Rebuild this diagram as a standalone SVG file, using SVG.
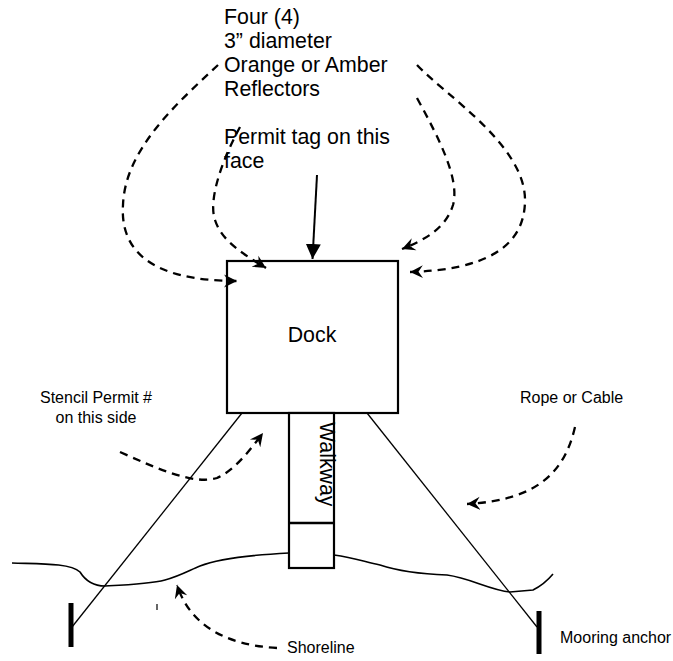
<svg xmlns="http://www.w3.org/2000/svg" width="673" height="661" viewBox="0 0 673 661">
<style>
text{font-family:"Liberation Sans",Arial,sans-serif;fill:#000}
.big{font-size:21.33px}
.small{font-size:16px}
.box{fill:#fff;stroke:#000;stroke-width:2.2}
.dash{fill:none;stroke:#000;stroke-width:2.3;stroke-dasharray:8 6}
.rope{fill:none;stroke:#000;stroke-width:1.3}
.shore{fill:none;stroke:#000;stroke-width:1.6}
.anchor{stroke:#000;stroke-width:5}
</style>
<defs>
<marker id="stealth" markerUnits="userSpaceOnUse" markerWidth="15" markerHeight="15" refX="13" refY="6.5" orient="auto" viewBox="0 0 15 13">
<path d="M0,0 L13,6.5 L0,13 L4.5,6.5 z" fill="#000"/>
</marker>
<marker id="tri" markerUnits="userSpaceOnUse" markerWidth="16" markerHeight="16" refX="15" refY="7.5" orient="auto" viewBox="0 0 16 15">
<path d="M0,0 L15,7.5 L0,15 z" fill="#000"/>
</marker>
</defs>
<rect width="673" height="661" fill="#fff"/>

<g id="shoreline">
<path class="shore" d="M12,563 C40,564 70,563 80,572 C85,580 92,586 105,586 C125,585 150,584 165,580 C180,576 190,570 200,566 C220,558 250,555 289,553"/>
<path class="shore" d="M334,555 C355,558 365,562 380,565 C395,570 420,574 447,575 C470,578 490,590 510,592 L533,590 C543,585 548,580 553,574"/>
<line x1="157" y1="604" x2="157" y2="610" stroke="#000" stroke-width="1.2"/>
</g>

<g id="dock">
<rect class="box" x="227" y="261" width="171" height="152"/>
<text class="big" x="312" y="342" text-anchor="middle">Dock</text>
</g>

<g id="walkway">
<rect class="box" x="289" y="413" width="45" height="155"/>
<line x1="289" y1="523" x2="334" y2="523" stroke="#000" stroke-width="2.5"/>
<text class="big" transform="translate(320,422) rotate(90)">Walkway</text>
</g>

<g id="connectors">
<line class="rope" x1="242" y1="413" x2="72" y2="627"/>
<line class="rope" x1="367" y1="413" x2="537" y2="627"/>
<line x1="317" y1="175" x2="312.5" y2="259" stroke="#000" stroke-width="2" marker-end="url(#tri)"/>
<path class="dash" d="M218,65 C175,105 125,150 123,205 C120,250 150,281 237,281" marker-end="url(#stealth)"/>
<path class="dash" d="M240,127 C222,160 208,200 215,220 C222,242 245,255 266,268" marker-end="url(#stealth)"/>
<path class="dash" d="M417,98 C440,140 460,180 453,205 C446,228 425,240 402,249" marker-end="url(#stealth)"/>
<path class="dash" d="M417,65 C445,95 525,145 525,200 C525,250 480,270 410,272" marker-end="url(#stealth)"/>
<path class="dash" d="M120,452 C160,470 195,485 217,478 C235,470 250,450 263,433" marker-end="url(#stealth)"/>
<path class="dash" d="M277,648 C225,645 190,625 177,585" marker-end="url(#stealth)"/>
<path class="dash" d="M575,427 C565,470 540,500 467,504" marker-end="url(#stealth)"/>
</g>

<g id="anchor-left">
<line class="anchor" x1="71" y1="603" x2="71" y2="647"/>
</g>
<g id="anchor-right">
<line class="anchor" x1="539" y1="611" x2="539" y2="654"/>
<text class="small" x="560" y="643">Mooring anchor</text>
</g>

<g id="label-reflectors">
<text class="big" x="224" y="23.5">Four (4)</text>
<text class="big" x="224" y="47.5">3” diameter</text>
<text class="big" x="224" y="71.5">Orange or Amber</text>
<text class="big" x="224" y="95.5">Reflectors</text>
</g>
<g id="label-permit-tag">
<text class="big" x="224" y="144">Permit tag on this</text>
<text class="big" x="224" y="168">face</text>
</g>
<g id="label-stencil">
<text class="small" x="96" y="403" text-anchor="middle">Stencil Permit #</text>
<text class="small" x="96" y="423" text-anchor="middle">on this side</text>
</g>
<g id="label-rope">
<text class="small" x="520" y="403">Rope or Cable</text>
</g>
<g id="label-shoreline">
<text class="small" x="287" y="653">Shoreline</text>
</g>
</svg>
